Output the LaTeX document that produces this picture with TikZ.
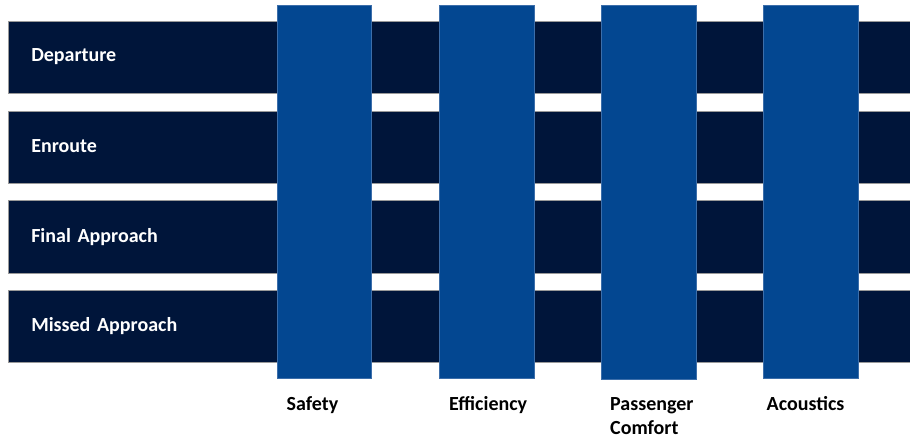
\documentclass[tikz,border=0pt]{standalone}
\usepackage{fontspec}
\setmainfont{Carlito}
\definecolor{navy}{RGB}{0,21,58}
\definecolor{pillar}{RGB}{3,71,145}
\definecolor{pillaredge}{RGB}{60,110,170}
\tikzset{
  rowbar/.style={rectangle, fill=navy, draw=gray!80, line width=0.6pt, anchor=north west,
    minimum width=903pt, minimum height=72.5pt, text width=857pt, inner xsep=23pt, inner ysep=0pt,
    align=left, text=white, font=\bfseries\fontsize{20}{24}\selectfont},
  colbar/.style={rectangle, fill=pillar, draw=pillaredge, line width=0.5pt, anchor=north west,
    minimum width=94.5pt, inner sep=0pt},
  collabel/.style={anchor=base west, inner sep=0pt, align=left, text=black,
    font=\bfseries\fontsize{20}{24}\selectfont}
}
\begin{document}
\begin{tikzpicture}[x=1pt,y=-1pt]
\useasboundingbox (0,0) rectangle (910,440);
\node[rowbar] (dep) at (8,20.5) {\raisebox{-1pt}{Departure}};
\node[rowbar] (enr) at (8,110.5) {\raisebox{3pt}{Enroute}};
\node[rowbar] (fin) at (8,200) {Final Approach};
\node[rowbar] (mis) at (8,289.8) {\raisebox{1pt}{Missed Approach}};
\node[colbar, minimum height=373pt] (saf) at (276.5,5.3) {};
\node[colbar, minimum height=373pt] (eff) at (439,5.3) {};
\node[colbar, minimum height=373.7pt] (pas) at (601.3,5.3) {};
\node[colbar, minimum height=372.8pt] (aco) at (763,5.3) {};
\node[collabel] (safl) at (286.5,410) {Safety};
\node[collabel] (effl) at (449,410) {Efficiency};
\node[collabel, anchor=north west] (pasl) at (610,397) {Passenger\\Comfort};
\node[collabel] (acol) at (766.5,410) {Acoustics};
\end{tikzpicture}
\end{document}
